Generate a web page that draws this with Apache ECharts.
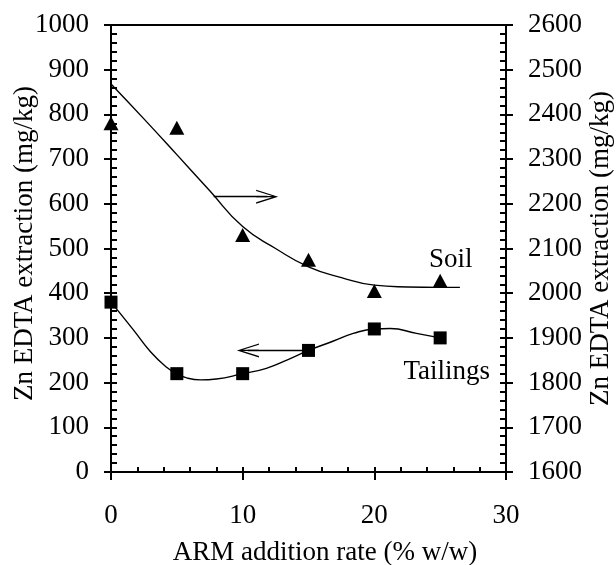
<!DOCTYPE html>
<html><head><meta charset="utf-8">
<script src="https://cdn.jsdelivr.net/npm/echarts@6/dist/echarts.min.js"></script>
<style>html,body{margin:0;padding:0;background:#fff}#c{width:616px;height:565px}</style>
</head><body><div id="c"></div>
<script>
// ---- data ----
const xRate = [0, 5, 10, 15, 20, 25];
const tailings = [380, 220, 220, 272, 320, 300];      // left axis (mg/kg)
const soil = [2380, 2370, 2130, 2075, 2005, 2028];      // right axis (mg/kg)
// fitted curves
const tailFitX = [0, 1.7, 3, 4.2, 5, 5.8, 6.8, 8, 10, 11.8, 13.4, 15, 16.9, 18.4, 20, 21.2, 23.2, 25];
const tailFitY = [380, 318, 269, 235, 220, 210, 206, 208, 220, 232, 251, 272, 293, 310, 320, 321, 310, 300];
const soilFitX = [0, 2.5, 5, 7.5, 10, 12.5, 15, 17.5, 20, 22.5, 25, 26.5];
const soilFitY = [2468, 2390, 2310, 2229, 2149, 2100, 2059, 2035, 2018, 2014, 2013, 2013];
const xTitle = 'ARM addition rate (% w/w)';
const yTitle = 'Zn EDTA extraction (mg/kg)';
const seriesLabels = ['Soil', 'Tailings'];
const labelPos = [[25.8, 2074], [25.5, 224]];
const arrowRight = [[7.8, 2216], [11.86, 2216]];   // points to right axis
const arrowLeft = [[15, 272], [10.4, 272]];         // points to left axis

const FONT = 'Liberation Serif';
const FS = 27;
const black = '#000';
const arrowPath = 'path://M7,0 L14,22 L12.6,22 L7.7,6 L7.7,22 L6.3,22 L6.3,6 L1.4,22 L0,22 Z';

function pairs(xs, ys) { return xs.map((x, i) => [x, ys[i]]); }
const plain = v => String(v);

function xAx(main) {
  return {
    type: 'value', min: 0, max: 30, interval: 10, position: 'bottom',
    axisLine: { show: main, lineStyle: { color: black, width: 2 } },
    axisTick: main ? { show: true, inside: false, length: 8, lineStyle: { color: black, width: 2 } }
                   : { show: true, inside: true, length: 5, lineStyle: { color: black, width: 2 } },
    minorTick: { show: !main, splitNumber: 5, length: 5, lineStyle: { color: black, width: 2 } },
    axisLabel: { show: main, margin: 30, color: black, fontFamily: FONT, fontSize: FS, formatter: plain },
    splitLine: { show: false },
    name: main ? xTitle : '', nameLocation: 'middle', nameGap: 67, nameMoveOverlap: false,
    nameTextStyle: { color: black, fontFamily: FONT, fontSize: FS, padding: [0, 0, 0, 33] }
  };
}
function yAx(main, pos, mn, mx) {
  return {
    type: 'value', min: mn, max: mx, interval: 100, position: pos,
    axisLine: { show: main, lineStyle: { color: black, width: 2 } },
    axisTick: main ? { show: true, inside: false, length: 7, lineStyle: { color: black, width: 2 } }
                   : { show: true, inside: true, length: 6, lineStyle: { color: black, width: 2 } },
    minorTick: { show: !main, splitNumber: 5, length: 6, lineStyle: { color: black, width: 2 } },
    axisLabel: { show: main, margin: 22, color: black, fontFamily: FONT, fontSize: FS, formatter: plain },
    splitLine: { show: false },
    name: main ? yTitle : '', nameLocation: 'middle', nameRotate: 90, nameMoveOverlap: false,
    nameGap: pos === 'left' ? 73 : 81,
    nameTextStyle: { color: black, fontFamily: FONT, fontSize: FS,
      padding: pos === 'left' ? [0, 0, 0, 10] : [0, 0, 0, 0] }
  };
}

function arrowLine(pts) {
  return {
    silent: true, symbol: ['none', 'none'], symbolSize: 22,
    label: { show: false }, emphasis: { disabled: true },
    lineStyle: { color: black, width: 1.4, type: 'solid' },
    data: [[
      { coord: pts[0], symbol: 'none' },
      { coord: pts[1], symbol: arrowPath, symbolSize: [14, 22] }
    ]]
  };
}

function textLabel(name, yIdx, pos, txt) {
  return {
    name: name, type: 'scatter', xAxisIndex: 0, yAxisIndex: yIdx, silent: true,
    data: [pos], symbolSize: 0, itemStyle: { opacity: 1, color: black },
    label: { show: true, position: 'inside', formatter: txt, color: black, opacity: 1, fontFamily: FONT, fontSize: FS }
  };
}

const chart = echarts.init(document.getElementById('c'), null, { renderer: 'canvas' });
chart.setOption({
  animation: false,
  backgroundColor: '#fff',
  grid: { left: 111, right: 110, top: 25, bottom: 93, show: true, borderColor: black, borderWidth: 2,
          containLabel: false, outerBoundsMode: 'none' },
  xAxis: [xAx(true), xAx(false)],
  yAxis: [yAx(true, 'left', 0, 1000), yAx(false, 'left', 0, 1000), yAx(true, 'right', 1600, 2600), yAx(false, 'right', 1600, 2600)],
  series: [
    {
      name: 'TailingsFit', type: 'line', xAxisIndex: 0, yAxisIndex: 0,
      data: pairs(tailFitX, tailFitY), smooth: true, showSymbol: false, symbol: 'none',
      lineStyle: { color: black, width: 1.4 },
      markLine: arrowLine(arrowLeft)
    },
    {
      name: 'Tailings', type: 'scatter', xAxisIndex: 0, yAxisIndex: 0,
      data: pairs(xRate, tailings), symbol: 'rect', symbolSize: 13,
      itemStyle: { color: black, opacity: 1 }
    },
    {
      name: 'SoilFit', type: 'line', xAxisIndex: 0, yAxisIndex: 2,
      data: pairs(soilFitX, soilFitY), smooth: true, showSymbol: false, symbol: 'none',
      lineStyle: { color: black, width: 1.4 },
      markLine: arrowLine(arrowRight)
    },
    {
      name: 'Soil', type: 'scatter', xAxisIndex: 0, yAxisIndex: 2,
      data: pairs(xRate, soil), symbol: 'triangle', symbolSize: [15, 14],
      itemStyle: { color: black, opacity: 1 }
    },
    textLabel('lblSoil', 2, labelPos[0], seriesLabels[0]),
    textLabel('lblTail', 0, labelPos[1], seriesLabels[1])
  ]
});
</script></body></html>
